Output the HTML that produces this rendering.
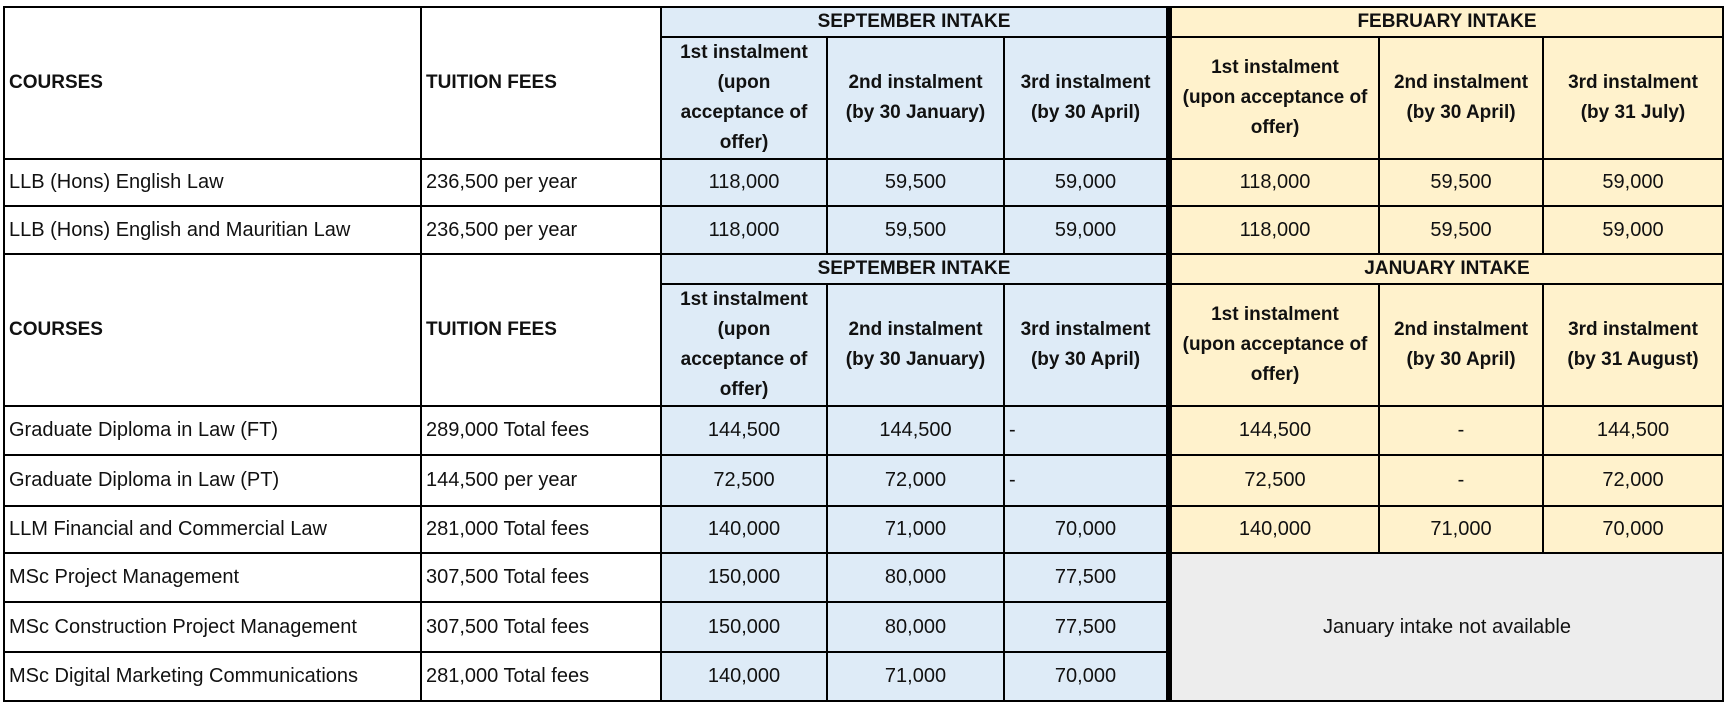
<!DOCTYPE html>
<html><head><meta charset="utf-8"><style>
html,body{margin:0;padding:0;background:#fff;width:1726px;height:704px;overflow:hidden}
table{position:absolute;left:3px;top:6px;border-collapse:collapse;table-layout:fixed;font-family:"Liberation Sans",sans-serif;font-size:20px;color:#111}
td{border:2px solid #000;padding:0 4px;text-align:center;vertical-align:middle;overflow:hidden;white-space:nowrap}
.l{text-align:left}
.b{font-weight:bold;font-size:19px}
.h{font-weight:bold;line-height:30px;font-size:19px;padding:0}
.bl{background:#deebf7}
.ye{background:#fff2cc}
.gr{background:#ededed}
.tk{border-left:6px solid #000}
</style></head><body>
<table>
<colgroup><col style="width:417px"><col style="width:240px"><col style="width:166px"><col style="width:177px"><col style="width:165px"><col style="width:210px"><col style="width:164px"><col style="width:180px"></colgroup>
<tr style="height:30px"><td rowspan="2" class="l b">COURSES</td><td rowspan="2" class="l b">TUITION FEES</td><td colspan="3" class="bl b">SEPTEMBER INTAKE</td><td colspan="3" class="ye b tk">FEBRUARY INTAKE</td></tr>
<tr style="height:122px"><td class="bl h">1st instalment<br>(upon<br>acceptance of<br>offer)</td><td class="bl h">2nd instalment<br>(by 30 January)</td><td class="bl h">3rd instalment<br>(by 30 April)</td><td class="ye h tk">1st instalment<br>(upon acceptance of<br>offer)</td><td class="ye h">2nd instalment<br>(by 30 April)</td><td class="ye h">3rd instalment<br>(by 31 July)</td></tr>
<tr style="height:47px"><td class="l">LLB (Hons) English Law</td><td class="l">236,500 per year</td><td class="bl">118,000</td><td class="bl">59,500</td><td class="bl">59,000</td><td class="ye tk">118,000</td><td class="ye">59,500</td><td class="ye">59,000</td></tr>
<tr style="height:48px"><td class="l">LLB (Hons) English and Mauritian Law</td><td class="l">236,500 per year</td><td class="bl">118,000</td><td class="bl">59,500</td><td class="bl">59,000</td><td class="ye tk">118,000</td><td class="ye">59,500</td><td class="ye">59,000</td></tr>
<tr style="height:30px"><td rowspan="2" class="l b">COURSES</td><td rowspan="2" class="l b">TUITION FEES</td><td colspan="3" class="bl b">SEPTEMBER INTAKE</td><td colspan="3" class="ye b tk">JANUARY INTAKE</td></tr>
<tr style="height:122px"><td class="bl h">1st instalment<br>(upon<br>acceptance of<br>offer)</td><td class="bl h">2nd instalment<br>(by 30 January)</td><td class="bl h">3rd instalment<br>(by 30 April)</td><td class="ye h tk">1st instalment<br>(upon acceptance of<br>offer)</td><td class="ye h">2nd instalment<br>(by 30 April)</td><td class="ye h">3rd instalment<br>(by 31 August)</td></tr>
<tr style="height:49px"><td class="l">Graduate Diploma in Law (FT)</td><td class="l">289,000 Total fees</td><td class="bl">144,500</td><td class="bl">144,500</td><td class="bl l">-</td><td class="ye tk">144,500</td><td class="ye">-</td><td class="ye">144,500</td></tr>
<tr style="height:51px"><td class="l">Graduate Diploma in Law (PT)</td><td class="l">144,500 per year</td><td class="bl">72,500</td><td class="bl">72,000</td><td class="bl l">-</td><td class="ye tk">72,500</td><td class="ye">-</td><td class="ye">72,000</td></tr>
<tr style="height:47px"><td class="l">LLM Financial and Commercial Law</td><td class="l">281,000 Total fees</td><td class="bl">140,000</td><td class="bl">71,000</td><td class="bl">70,000</td><td class="ye tk">140,000</td><td class="ye">71,000</td><td class="ye">70,000</td></tr>
<tr style="height:49px"><td class="l">MSc Project Management</td><td class="l">307,500 Total fees</td><td class="bl">150,000</td><td class="bl">80,000</td><td class="bl">77,500</td><td colspan="3" rowspan="3" class="gr tk">January intake not available</td></tr>
<tr style="height:50px"><td class="l">MSc Construction Project Management</td><td class="l">307,500 Total fees</td><td class="bl">150,000</td><td class="bl">80,000</td><td class="bl">77,500</td></tr>
<tr style="height:49px"><td class="l">MSc Digital Marketing Communications</td><td class="l">281,000 Total fees</td><td class="bl">140,000</td><td class="bl">71,000</td><td class="bl">70,000</td></tr>
</table>
</body></html>
